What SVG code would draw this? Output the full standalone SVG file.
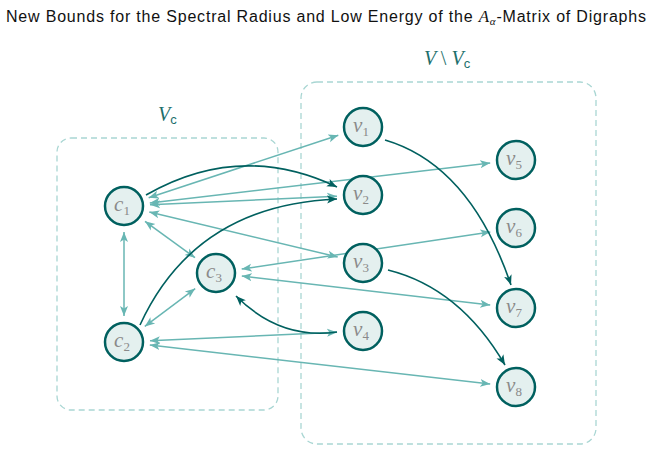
<svg xmlns="http://www.w3.org/2000/svg" width="653" height="452" viewBox="0 0 653 452">
<defs>
<marker id="la" markerUnits="userSpaceOnUse" markerWidth="12" markerHeight="10" refX="10" refY="4" orient="auto-start-reverse" viewBox="0 0 12 8">
<path d="M0,0 L10,4 L0,8 L2.5,4 z" fill="#68b6b3"/>
</marker>
<marker id="da" markerUnits="userSpaceOnUse" markerWidth="12" markerHeight="10" refX="10" refY="4" orient="auto" viewBox="0 0 12 8">
<path d="M0,0 L10,4 L0,8 L2.5,4 z" fill="#00605f"/>
</marker>
</defs>
<style>
.box{fill:none;stroke:#a9d6d3;stroke-width:1.3;stroke-dasharray:6 4}
.lt{fill:none;stroke:#68b6b3;stroke-width:1.5;marker-start:url(#la);marker-end:url(#la)}
.dk{fill:none;stroke:#00605f;stroke-width:1.6;marker-end:url(#da)}
.node circle{fill:#e4f0ef;stroke:#00605f;stroke-width:2.5}
.node text{font-family:"Liberation Serif",serif;font-style:italic;font-size:21px;fill:#8a8a8a;text-anchor:middle}
.node .sub{font-style:normal;font-size:13px}
.grp{font-family:"Liberation Serif",serif;font-style:italic;font-size:20px;fill:#1d6f6c}
.grp .s{font-family:"Liberation Sans",sans-serif;font-style:normal;font-size:13px}
.grp .n{font-style:normal}
.title{font-family:"Liberation Sans",sans-serif;font-size:16px;fill:#111}
</style>
<rect width="653" height="452" fill="#fff"/>
<text class="title" x="6" y="22" textLength="640" lengthAdjust="spacing">New Bounds for the Spectral Radius and Low Energy of the <tspan font-family="Liberation Serif" font-style="italic" font-size="17">A</tspan><tspan font-family="Liberation Serif" font-style="italic" font-size="11" dy="3">α</tspan><tspan dy="-3">-Matrix of Digraphs</tspan></text>
<g id="groups">
<rect class="box" x="57" y="138" width="221" height="272" rx="14"/>
<rect class="box" x="301" y="82" width="295" height="362" rx="16"/>
<text class="grp" x="158" y="121">V<tspan class="s" dy="3">c</tspan></text>
<text class="grp" x="424" y="65">V <tspan class="n">\</tspan> V<tspan class="s" dy="3">c</tspan></text>
</g>
<g id="edges">
<line class="lt" x1="148.7" y1="197.8" x2="338.3" y2="135.2"/>
<line class="lt" x1="149.8" y1="203" x2="490.2" y2="163"/>
<line class="lt" x1="150" y1="204.8" x2="337" y2="196.2"/>
<line class="lt" x1="149.3" y1="212" x2="337.7" y2="257"/>
<line class="lt" x1="124" y1="232" x2="124" y2="316"/>
<line class="lt" x1="145" y1="221.3" x2="195" y2="257.7"/>
<line class="lt" x1="144.8" y1="326.4" x2="195.2" y2="288.6"/>
<line class="lt" x1="150" y1="340.8" x2="337" y2="332.2"/>
<line class="lt" x1="149.8" y1="345" x2="490.2" y2="384"/>
<line class="lt" x1="241.7" y1="269.1" x2="490.3" y2="231.9"/>
<line class="lt" x1="241.8" y1="276" x2="490.2" y2="305"/>
<path class="dk" d="M146,195 Q240,141 337,187"/>
<path class="dk" d="M140,325 Q195,205 337,199"/>
<path class="dk" d="M385,140 Q470,165 511,285"/>
<path class="dk" d="M388,270 Q460,288 505,365"/>
<path class="dk" d="M337,332 Q280,340 236,296"/>
</g>
<g id="c1" class="node"><circle cx="124" cy="206" r="19"/><text x="122" y="211">c<tspan class="sub" dy="4">1</tspan></text></g>
<g id="c2" class="node"><circle cx="124" cy="342" r="19"/><text x="122" y="347">c<tspan class="sub" dy="4">2</tspan></text></g>
<g id="c3" class="node"><circle cx="216" cy="273" r="19"/><text x="214" y="278">c<tspan class="sub" dy="4">3</tspan></text></g>
<g id="v1" class="node"><circle cx="363" cy="127" r="19"/><text x="361" y="132">v<tspan class="sub" dy="4">1</tspan></text></g>
<g id="v2" class="node"><circle cx="363" cy="195" r="19"/><text x="361" y="200">v<tspan class="sub" dy="4">2</tspan></text></g>
<g id="v3" class="node"><circle cx="363" cy="263" r="19"/><text x="361" y="268">v<tspan class="sub" dy="4">3</tspan></text></g>
<g id="v4" class="node"><circle cx="363" cy="331" r="19"/><text x="361" y="336">v<tspan class="sub" dy="4">4</tspan></text></g>
<g id="v5" class="node"><circle cx="516" cy="160" r="19"/><text x="514" y="165">v<tspan class="sub" dy="4">5</tspan></text></g>
<g id="v6" class="node"><circle cx="516" cy="228" r="19"/><text x="514" y="233">v<tspan class="sub" dy="4">6</tspan></text></g>
<g id="v7" class="node"><circle cx="516" cy="308" r="19"/><text x="514" y="313">v<tspan class="sub" dy="4">7</tspan></text></g>
<g id="v8" class="node"><circle cx="516" cy="387" r="19"/><text x="514" y="392">v<tspan class="sub" dy="4">8</tspan></text></g>
</svg>
